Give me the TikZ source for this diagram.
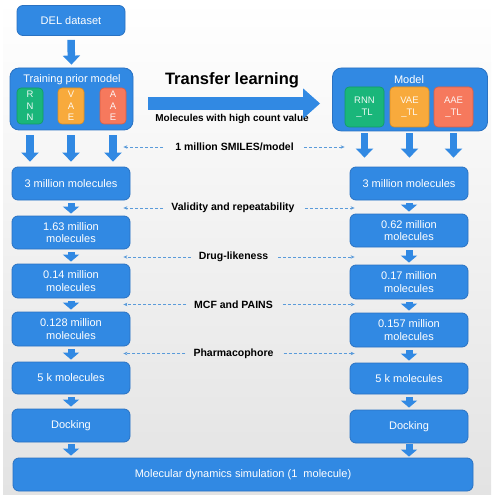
\documentclass[tikz,border=0pt]{standalone}
\usepackage{fontspec}
\setmainfont{Liberation Sans}
\usetikzlibrary{arrows.meta,positioning}
\definecolor{bbox}{HTML}{3189E3}
\definecolor{bedge}{HTML}{2A72C2}
\definecolor{grn}{HTML}{1AB67A}
\definecolor{grnE}{HTML}{139A63}
\definecolor{org}{HTML}{F8AA3C}
\definecolor{orgE}{HTML}{E08E1E}
\definecolor{sal}{HTML}{F6795D}
\definecolor{salE}{HTML}{DC5E43}
\definecolor{dsh}{HTML}{5A9BDA}
\tikzset{
  bluebox/.style={draw=bedge, line width=0.8pt, fill=bbox, rounded corners=6pt, text=white,
     font=\fontsize{11}{12.5}\selectfont, align=center, inner sep=0pt},
  modbox/.style={bluebox, rounded corners=9pt},
  subbox/.style={draw=#1E, line width=0.6pt, fill=#1, rounded corners=4pt, text=white!92!#1,
     font=\fontsize{9.5}{11.5}\selectfont, align=center, inner sep=0pt,
     minimum width=26pt, minimum height=36pt},
  blk/.style={draw=bbox, line width=7pt, -{Triangle[width=16pt,length=7pt]}},
  bigblk/.style={draw=bbox, line width=7.5pt, -{Triangle[width=17pt,length=9pt]}},
  dasharr/.style={draw=dsh, line width=0.8pt, dash pattern=on 3pt off 2pt, -{Stealth[length=4pt,width=3.5pt]}},
  lbl/.style={font=\bfseries\fontsize{10.5}{12}\selectfont, inner sep=0pt},
}
\begin{document}
\begin{tikzpicture}[x=1pt,y=-1pt]
\useasboundingbox (0,0) rectangle (491,497);
\shade[top color=white, bottom color=black!11] (3,0) rectangle (491,494);
% top
\node[bluebox, minimum width=108pt, minimum height=30pt] (del) at (71,20.5) {DEL dataset};
\node[modbox, minimum width=123pt, minimum height=62pt] (tp) at (71.5,99) {};
\node[text=white, font=\fontsize{11}{12}\selectfont, inner sep=0pt] (tpt) at (72,80) {Training prior model};
\node[subbox=grn] (rnn) at (30,106) {R\\N\\N};
\node[subbox=org] (vae) at (71,106) {V\\A\\E};
\node[subbox=sal] (aae) at (113,106) {A\\A\\E};
\draw[bigblk] ([yshift=-4pt]del.south) -- ([yshift=3pt]tp.north);

\node[modbox, minimum width=155pt, minimum height=63pt] (md) at (410,99.5) {};
\node[text=white, font=\fontsize{11}{12}\selectfont, inner sep=0pt] (mdt) at (409,80) {Model};
\node[subbox=grn, minimum width=39pt, minimum height=40pt] (rnnt) at (364.5,107) {RNN\\\_TL};
\node[subbox=org, minimum width=39pt, minimum height=40pt] (vaet) at (409.5,107) {VAE\\\_TL};
\node[subbox=sal, minimum width=39pt, minimum height=40pt] (aaet) at (453.5,107) {AAE\\\_TL};

\node[font=\bfseries\fontsize{16.5}{18}\selectfont, inner sep=0pt] (tl) at (232,80) {Transfer learning};
\node[font=\bfseries\fontsize{10}{12}\selectfont, inner sep=0pt] (mh) at (232,119) {Molecules with high count value};
\draw[draw=bbox, line width=13pt, -{Triangle[width=29pt,length=17pt]}] ([xshift=15pt]tp.east |- 0,103.5) -- ([xshift=-12pt]md.west |- 0,103.5);

% left column
\node[bluebox, minimum width=118pt, minimum height=33pt] (l1) at (71,183.5) {3 million molecules};
\node[bluebox, minimum width=118pt, minimum height=33pt] (l2) at (71,232.5) {1.63 million\\molecules};
\node[bluebox, minimum width=118pt, minimum height=34pt] (l3) at (71,281) {0.14 million\\molecules};
\node[bluebox, minimum width=118pt, minimum height=34pt] (l4) at (71,329) {0.128 million\\molecules};
\node[bluebox, minimum width=118pt, minimum height=32pt] (l5) at (71,378) {5 k molecules};
\node[bluebox, minimum width=118pt, minimum height=33pt] (l6) at (71,425.5) {Docking};
% right column
\node[bluebox, minimum width=118pt, minimum height=33pt] (r1) at (409,183.5) {3 million molecules};
\node[bluebox, minimum width=118pt, minimum height=33pt] (r2) at (409,230.5) {0.62 million\\molecules};
\node[bluebox, minimum width=118pt, minimum height=34pt] (r3) at (409,282) {0.17 million\\molecules};
\node[bluebox, minimum width=118pt, minimum height=34pt] (r4) at (409,330) {0.157 million\\molecules};
\node[bluebox, minimum width=118pt, minimum height=31pt] (r5) at (409,378.5) {5 k molecules};
\node[bluebox, minimum width=118pt, minimum height=33pt] (r6) at (409,426.5) {Docking};
% bottom
\node[bluebox, minimum width=460pt, minimum height=33pt] (mds) at (243,474.5) {Molecular dynamics simulation (1\ \ molecule)};

% model arrows
\foreach \s in {rnn,vae,aae}{
  \draw[bigblk] ([yshift=-5pt]\s |- tp.south) -- ([yshift=5pt]\s |- l1.north);
}
\foreach \s in {rnnt,vaet,aaet}{
  \draw[bigblk] ([yshift=-2pt]\s |- md.south) -- ([yshift=9pt]\s |- r1.north);
}
% column arrows
\foreach \a/\b in {l1/l2,l2/l3,l3/l4,l4/l5,l5/l6,r1/r2,r2/r3,r3/r4,r4/r5,r5/r6}{
  \draw[blk] ([yshift=-3pt]\a.south) -- ([yshift=2pt]\b.north);
}
\draw[blk] ([yshift=-2pt]l6.south) -- ([yshift=2pt]l6.south |- mds.north);
\draw[blk] ([yshift=-1pt]r6.south) -- ([yshift=1pt]r6.south |- mds.north);

% labels with dashed arrows
\node[lbl] (la) at (234.5,147) {1 million SMILES/model};
\node[lbl] (lb) at (233,208) {Validity and repeatability};
\node[lbl] (lc) at (233.5,257) {Drug-likeness};
\node[lbl] (ld) at (233.5,304.5) {MCF and PAINS};
\node[lbl] (le) at (233.5,353.5) {Pharmacophore};
\draw[dasharr] ([xshift=-12pt]la.west) -- ([xshift=-7pt]la.west -| l1.east);
\draw[dasharr] ([xshift=10pt]la.east) -- ([xshift=-5pt]la.east -| r1.west);
\foreach \n in {lb,lc,ld,le}{
  \draw[dasharr] ([xshift=-8pt]\n.west) -- ([xshift=-7pt]\n.west -| l1.east);
  \draw[dasharr] ([xshift=10pt]\n.east) -- ([xshift=5pt]\n.east -| r1.west);
}
\end{tikzpicture}
\end{document}
